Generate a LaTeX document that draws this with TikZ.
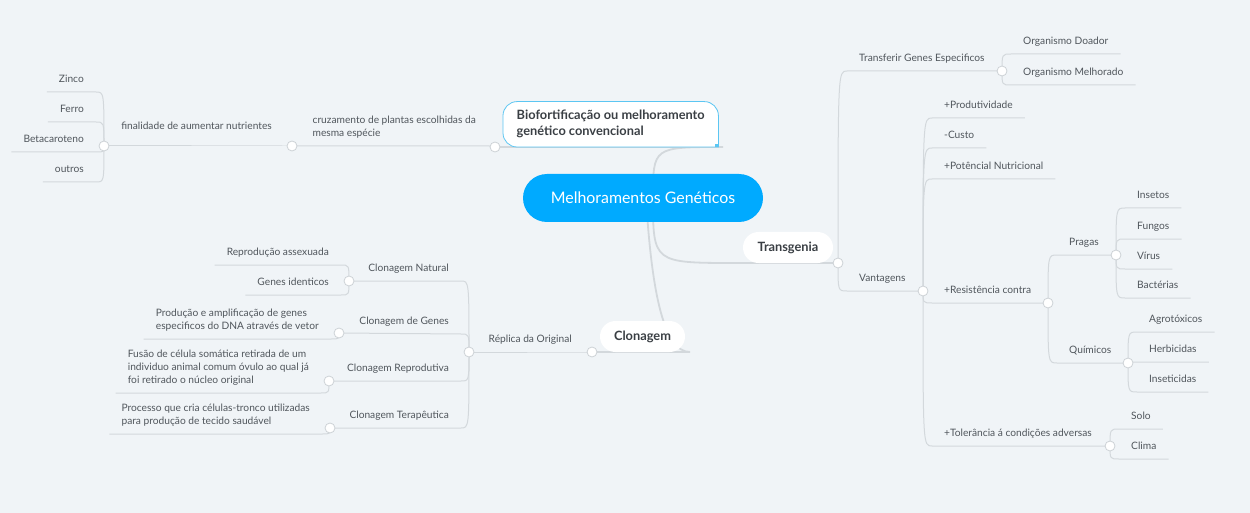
\documentclass[tikz,border=0pt]{standalone}
\usepackage{fontspec}
\setmainfont{Lato}
\usetikzlibrary{positioning}
\definecolor{paper}{HTML}{F0F4F7}
\definecolor{rootblue}{HTML}{00AAFF}
\definecolor{bioblue}{HTML}{5CC6F2}
\definecolor{linegray}{HTML}{D3D8DC}
\definecolor{handlegray}{HTML}{CDD2D6}
\definecolor{ink}{HTML}{50565C}
\definecolor{darkink}{HTML}{3A3F44}
\pgfdeclarelayer{back}
\pgfdeclarelayer{lines}
\pgfdeclarelayer{boxes}
\pgfsetlayers{back,lines,boxes,main}
\tikzset{
  branch/.style={draw=linegray, line width=1pt},
  trunk/.style={branch, line width=1.8pt},
  fan/.style={to path={.. controls (\tikztostart |- \tikztotarget) .. (\tikztotarget)}},
  topic/.style={font=\fontsize{10.2}{13}\selectfont, text=ink, inner xsep=12pt,
    inner ysep=7pt, text depth=2.5pt, align=left},
  handle/.style={circle, draw=handlegray, fill=white, line width=0.8pt,
    minimum size=10pt, inner sep=0pt},
  pill/.style={fill=white, rounded corners=15.5pt, minimum height=31pt,
    font=\fontsize{12.8}{15}\selectfont\bfseries, text=darkink},
  root/.style={fill=rootblue, text=white, rounded corners=24pt, minimum width=240pt,
    minimum height=48pt, font=\fontsize{15.9}{18}\selectfont},
  biobox/.style={fill=white, draw=bioblue, line width=0.8pt}}

\begin{document}
\begin{tikzpicture}[x=1pt, y=-1pt]
  \useasboundingbox (0,0) rectangle (1250,513);
  \begin{pgfonlayer}{back}
    \fill[paper] (0,0) rectangle (1250,513);
  \end{pgfonlayer}

  % main topics
  \node[root] (root) at (643,198) {Melhoramentos Genéticos};
  \node[font=\fontsize{12.8}{16}\selectfont\bfseries, text=darkink, align=left,
    minimum width=215pt, minimum height=45pt, anchor=south west] (bio) at (503,147)
    {Biofortificação ou melhoramento\\genético convencional};
  \node[pill, minimum width=90pt] (trans) at (788,247.5) {Transgenia};
  \node[pill, minimum width=85pt] (clon) at (642.5,336.5) {Clonagem};

  % handles
  \coordinate (cBio)   at (495,147);
  \coordinate (cCruz)  at (292,146);
  \coordinate (cL1)    at (104,146);
  \coordinate (cClon)  at (592,352);
  \coordinate (cRep)   at (469,352);
  \coordinate (cNat)   at (349,281);
  \coordinate (cGen)   at (339,333);
  \coordinate (cRepr)  at (329,381);
  \coordinate (cTer)   at (330,428);
  \coordinate (cTrans) at (838,263);
  \coordinate (cTG)    at (1002,71);
  \coordinate (cVant)  at (923,291);
  \coordinate (cRes)   at (1048,303);
  \coordinate (cPrag)  at (1116,255);
  \coordinate (cQuim)  at (1128,363);
  \coordinate (cTol)   at (1110,446);

  % ends of the main branches
  \coordinate (rootA) at (653,198);
  \coordinate (rootB) at (646,198);
  \coordinate (bioE)  at (723,147);
  \coordinate (transW) at (737,263);
  \coordinate (clonE) at (690,352);

  % left top
  \node[topic, anchor=south east] (cruz) at (488,146)
    {cruzamento de plantas escolhidas da\\mesma espécie};
  \node[topic, anchor=south east, text depth=9.5pt] (final) at (284,146)
    {finalidade de aumentar nutrientes};
  \node[topic, anchor=south east] (zinco)  at (96,92)  {Zinco};
  \node[topic, anchor=south east] (ferro)  at (96,122) {Ferro};
  \node[topic, anchor=south east] (beta)   at (96,152) {Betacaroteno};
  \node[topic, anchor=south east] (outros) at (96,182) {outros};

  % left bottom
  \node[topic, anchor=south east] (rep)  at (584,352) {Réplica da Original};
  \node[topic, anchor=south east] (nat)  at (461,281) {Clonagem Natural};
  \node[topic, anchor=south east] (gen)  at (461,334) {Clonagem de Genes};
  \node[topic, anchor=south east] (repr) at (461,381) {Clonagem Reprodutiva};
  \node[topic, anchor=south east] (ter)  at (461,428) {Clonagem Terapêutica};
  \node[topic, anchor=south east] (repro) at (341,265) {Reprodução assexuada};
  \node[topic, anchor=south east] (genes) at (341,295) {Genes identicos};
  \node[topic, anchor=south east] (prod)  at (331,339)
    {Produção e amplificação de genes\\especificos do DNA através de vetor};
  \node[topic, anchor=south east] (fusao) at (321,393)
    {Fusão de célula somática retirada de um\\individuo animal comum óvulo ao qual já\\foi retirado o núcleo original};
  \node[topic, anchor=south east] (proc)  at (322,434)
    {Processo que cria células-tronco utilizadas\\para produção de tecido saudável};

  % right
  \node[topic, anchor=south west] (transf) at (847,71)  {Transferir Genes Especificos};
  \node[topic, anchor=south west] (vant)   at (847,291) {Vantagens};
  \node[topic, anchor=south west] (doador) at (1011,54) {Organismo Doador};
  \node[topic, anchor=south west] (melhor) at (1011,85) {Organismo Melhorado};
  \node[topic, anchor=south west] (prodv)  at (932,118) {+Produtividade};
  \node[topic, anchor=south west] (custo)  at (932,148) {-Custo};
  \node[topic, anchor=south west] (pot)    at (932,179) {+Potêncial Nutricional};
  \node[topic, anchor=south west] (res)    at (932,303) {+Resistência contra};
  \node[topic, anchor=south west] (tol)    at (932,446) {+Tolerância á condições adversas};
  \node[topic, anchor=south west] (prag)   at (1057,255) {Pragas};
  \node[topic, anchor=south west] (quim)   at (1057,363) {Químicos};
  \node[topic, anchor=south west] (ins)    at (1125,208) {Insetos};
  \node[topic, anchor=south west] (fun)    at (1125,239) {Fungos};
  \node[topic, anchor=south west] (vir)    at (1125,269) {Vírus};
  \node[topic, anchor=south west] (bac)    at (1125,298) {Bactérias};
  \node[topic, anchor=south west] (agro)   at (1137,332) {Agrotóxicos};
  \node[topic, anchor=south west] (herb)   at (1137,362) {Herbicidas};
  \node[topic, anchor=south west] (inset)  at (1137,392) {Inseticidas};
  \node[topic, anchor=south west] (solo)   at (1119,429) {Solo};
  \node[topic, anchor=south west] (clima)  at (1119,459) {Clima};

  \begin{pgfonlayer}{boxes}
    \filldraw[biobox] (bio.south east) -- ([yshift=-14pt]bio.north east)
      arc[start angle=0, end angle=-90, radius=14]
      -- ([xshift=14pt]bio.north west)
      arc[start angle=-90, end angle=-180, radius=14]
      -- ([yshift=14pt]bio.south west)
      arc[start angle=180, end angle=90, radius=14]
      -- cycle;
  \end{pgfonlayer}
  \fill[bioblue] (bio.south east) rectangle ++(-3,-3);

  \begin{pgfonlayer}{lines}
    \draw[trunk] (rootA) to[fan] (bioE) -- (cBio);
    \draw[trunk] (rootA) to[fan] (transW) -- (cTrans);
    \draw[trunk] (rootB) .. controls +(6,100) and +(-25,0) .. (clonE) -- (cClon);
    % left top
    \draw[branch] (cBio) to[fan] (cruz.south east) -- (cCruz);
    \draw[branch] (cCruz) to[fan] (final.south east) -- (cL1);
    \foreach \n in {zinco,ferro,beta,outros}
      \draw[branch] (cL1) to[fan] (\n.south east) -- (\n.south west);
    % left bottom
    \draw[branch] (cClon) to[fan] (rep.south east) -- (cRep);
    \draw[branch] (cRep) to[fan] (nat.south east) -- (cNat);
    \draw[branch] (cRep) to[fan] (gen.south east) -- (cGen);
    \draw[branch] (cRep) to[fan] (repr.south east) -- (cRepr);
    \draw[branch] (cRep) to[fan] (ter.south east) -- (cTer);
    \foreach \n in {repro,genes}
      \draw[branch] (cNat) to[fan] (\n.south east) -- (\n.south west);
    \draw[branch] (cGen) to[fan] (prod.south east) -- (prod.south west);
    \draw[branch] (cRepr) to[fan] (fusao.south east) -- (fusao.south west);
    \draw[branch] (cTer) to[fan] (proc.south east) -- (proc.south west);
    % right
    \draw[branch] (cTrans) to[fan] (transf.south west) -- (cTG);
    \draw[branch] (cTrans) to[fan] (vant.south west) -- (cVant);
    \foreach \n in {doador,melhor}
      \draw[branch] (cTG) to[fan] (\n.south west) -- (\n.south east);
    \foreach \n in {prodv,custo,pot}
      \draw[branch] (cVant) to[fan] (\n.south west) -- (\n.south east);
    \draw[branch] (cVant) to[fan] (res.south west) -- (cRes);
    \draw[branch] (cVant) to[fan] (tol.south west) -- (cTol);
    \draw[branch] (cRes) to[fan] (prag.south west) -- (cPrag);
    \draw[branch] (cRes) to[fan] (quim.south west) -- (cQuim);
    \foreach \n in {ins,fun,vir,bac}
      \draw[branch] (cPrag) to[fan] (\n.south west) -- (\n.south east);
    \foreach \n in {agro,herb,inset}
      \draw[branch] (cQuim) to[fan] (\n.south west) -- (\n.south east);
    \foreach \n in {solo,clima}
      \draw[branch] (cTol) to[fan] (\n.south west) -- (\n.south east);
  \end{pgfonlayer}

  \foreach \c in {cBio,cCruz,cL1,cClon,cRep,cNat,cGen,cRepr,cTer,
                  cTrans,cTG,cVant,cRes,cPrag,cQuim,cTol}
    \node[handle] at (\c) {};
\end{tikzpicture}
\end{document}
